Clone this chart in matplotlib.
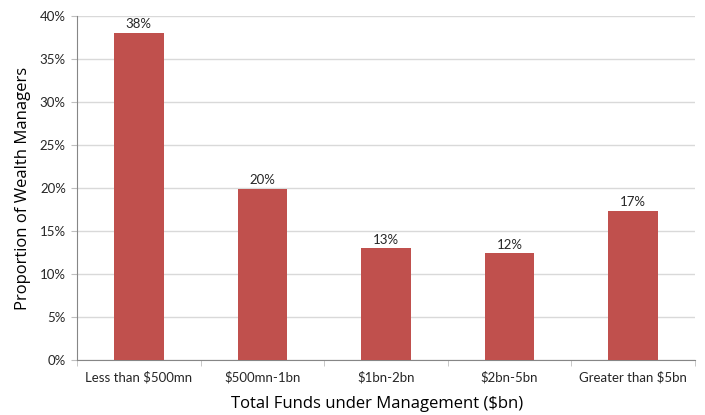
import matplotlib.pyplot as plt
import numpy as np

# Datos
categorias = ['Less than $500mn', '$500mn-1bn', '$1bn-2bn', '$2bn-5bn', 'Greater than $5bn']
valores = [38.0, 19.9, 13.0, 12.4, 17.35]
etiquetas = ['38%', '20%', '13%', '12%', '17%']

plt.rcParams['font.family'] = ['Lato', 'DejaVu Sans']

fig = plt.figure(figsize=(7.05, 4.15), dpi=100)
ax = fig.add_axes([0.1092, 0.1318, 0.8766, 0.8304])

x = np.arange(len(categorias))
barras = ax.bar(x, valores, width=0.4, color='#C0504D', zorder=3)

for b, txt in zip(barras, etiquetas):
    ax.text(b.get_x() + b.get_width() / 2, b.get_height() + 0.3, txt,
            ha='center', va='bottom', fontsize=9.5, color='#262626')

ax.set_xlim(-0.5, len(categorias) - 0.5)
ax.set_ylim(0, 40)
ax.set_yticks(np.arange(0, 41, 5))
ax.set_yticklabels([f'{v}%' for v in range(0, 41, 5)])
ax.set_xticks(x)
ax.set_xticklabels(categorias)
ax.set_xticks(np.arange(-0.5, len(categorias)), minor=True)

ax.grid(axis='y', color='#D9D9D9', linewidth=1, zorder=0)
ax.tick_params(axis='x', which='major', length=0, pad=8, labelsize=9.5, labelcolor='#262626')
ax.tick_params(axis='x', which='minor', length=4, color='#BFBFBF')
ax.tick_params(axis='y', length=4, color='#BFBFBF', labelsize=9.5, labelcolor='#262626', pad=4)

for s in ['top', 'right']:
    ax.spines[s].set_visible(False)
ax.spines['left'].set_color('#868686')
ax.spines['bottom'].set_color('#868686')

ax.set_xlabel('Total Funds under Management ($bn)', fontsize=12, family=['Open Sans', 'DejaVu Sans'])
ax.xaxis.set_label_coords(0.485, -0.104)
ax.set_ylabel('Proportion of Wealth Managers', fontsize=12, family=['Open Sans', 'DejaVu Sans'], labelpad=6)

fig.savefig('out.png', dpi=100)
